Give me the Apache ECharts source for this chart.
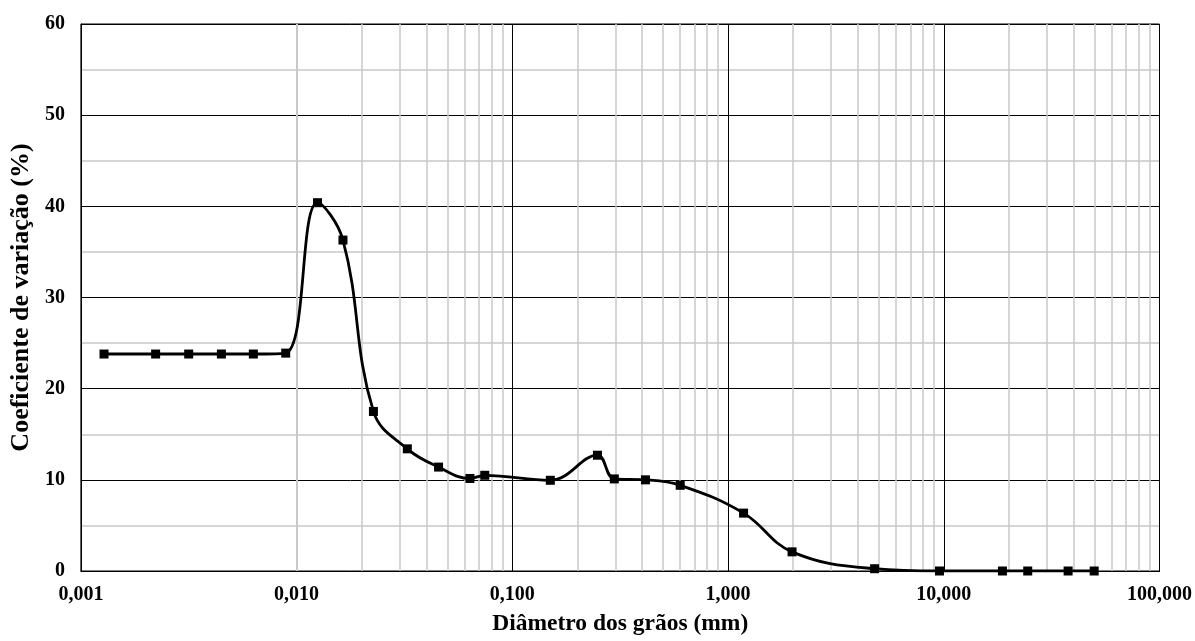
<!DOCTYPE html>
<html>
<head>
<meta charset="utf-8">
<script src="https://cdn.jsdelivr.net/npm/echarts@6/dist/echarts.min.js"></script>
<style>
html,body{margin:0;padding:0;background:#fff;}
#chart{width:1195px;height:641px;}
</style>
</head>
<body>
<div id="chart"></div>
<script>
// Data
const diameters = [0.00128, 0.00222, 0.00316, 0.00448, 0.0063, 0.0089, 0.0125, 0.0164, 0.0227, 0.0326, 0.0455, 0.0636, 0.0745, 0.150, 0.248, 0.297, 0.414, 0.60, 1.18, 1.98, 4.78, 9.55, 18.7, 24.5, 37.7, 49.8];
const coefVar   = [23.8, 23.8, 23.8, 23.8, 23.8, 23.9, 40.4, 36.3, 17.5, 13.4, 11.4, 10.15, 10.5, 9.95, 12.7, 10.1, 10.0, 9.4, 6.35, 2.1, 0.25, 0, 0, 0, 0, 0];
const xTickValues = [0.001, 0.01, 0.1, 1, 10, 100];
const yTickValues = [0, 10, 20, 30, 40, 50, 60];
const xAxisTitle = 'Diâmetro dos grãos (mm)';
const yAxisTitle = 'Coeficiente de variação (%)';

const FONT = '"Liberation Serif", "Times New Roman", serif';

// minor vertical grid lines at 2..9 x 10^k
const minorX = [];
for (let k = -3; k < 2; k++) {
  for (let m = 2; m <= 9; m++) minorX.push({ xAxis: m * Math.pow(10, k) });
}

const chart = echarts.init(document.getElementById('chart'));
chart.setOption({
  animation: false,
  backgroundColor: '#fff',
  grid: { left: 78, right: 35, top: 24, bottom: 69, show: true, borderColor: '#000', borderWidth: 1 },
  xAxis: {
    type: 'log', logBase: 10, min: 0.001, max: 100,
    name: xAxisTitle, nameLocation: 'middle', nameGap: 41,
    nameTextStyle: { fontFamily: FONT, fontWeight: 'bold', fontSize: 23.5, color: '#000' },
    axisLine: { show: true, lineStyle: { color: '#000', width: 1 } },
    axisTick: { show: false },
    axisLabel: {
      fontFamily: FONT, fontWeight: 'bold', fontSize: 20, color: '#000', margin: 14,
      formatter: v => v.toFixed(3).replace('.', ',')
    },
    splitLine: { show: true, lineStyle: { color: '#000', width: 1 } }
  },
  yAxis: {
    type: 'value', min: 0, max: 60, interval: 10,
    name: yAxisTitle, nameLocation: 'middle', nameGap: 42, nameRotate: 90,
    nameTextStyle: { fontFamily: FONT, fontWeight: 'bold', fontSize: 26, color: '#000' },
    axisLine: { show: true, lineStyle: { color: '#000', width: 1 } },
    axisTick: { show: false },
    axisLabel: { fontFamily: FONT, fontWeight: 'bold', fontSize: 20, color: '#000', margin: 16 },
    splitLine: { show: true, lineStyle: { color: '#000', width: 1 } },
    minorTick: { show: false, splitNumber: 2 },
    minorSplitLine: { show: true, lineStyle: { color: '#c8c8c8', width: 1.5 } }
  },
  series: [
    {
      type: 'line',
      data: [],
      silent: true,
      markLine: {
        silent: true, symbol: 'none', label: { show: false },
        lineStyle: { color: '#c8c8c8', width: 1.5, type: 'solid' },
        data: minorX, z: 1
      },
      z: 1
    },
    {
      type: 'line',
      data: diameters.map((d, i) => [d, coefVar[i]]),
      smooth: 0.4,
      symbol: 'rect', symbolSize: 9,
      itemStyle: { color: '#000' },
      lineStyle: { color: '#000', width: 2.8 },
      z: 5
    }
  ]
});
</script>
</body>
</html>
